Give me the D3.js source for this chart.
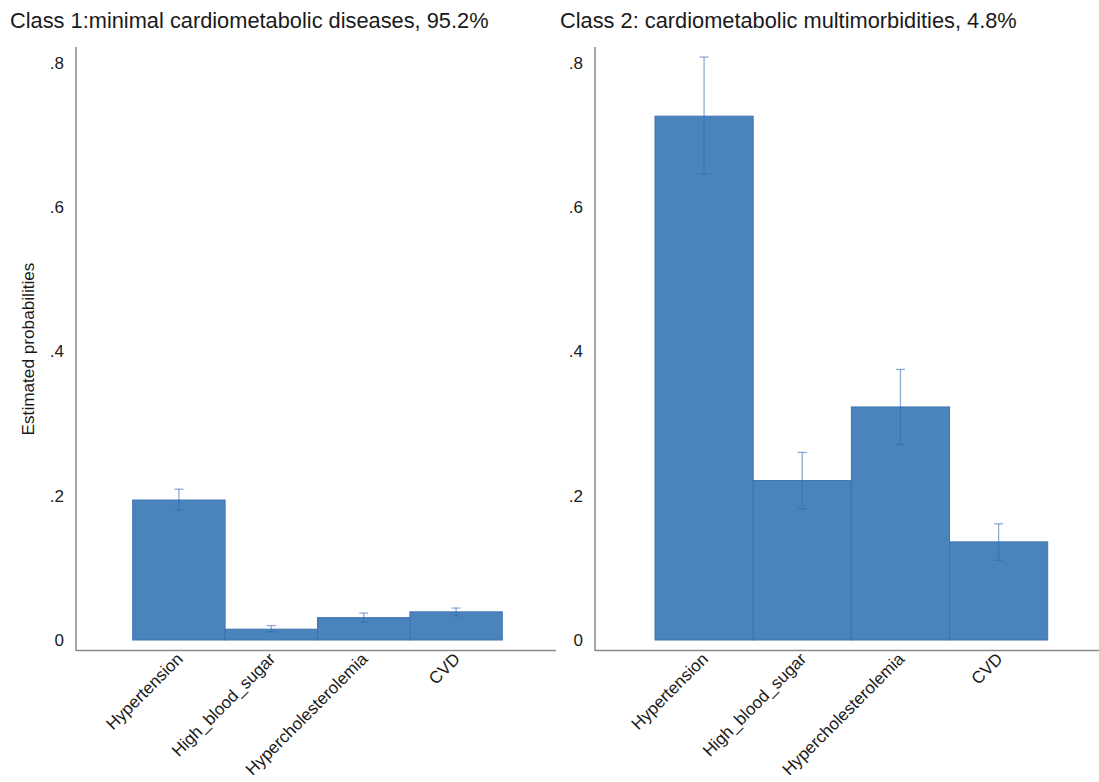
<!DOCTYPE html>
<html>
<head>
<meta charset="utf-8">
<script src="https://cdn.jsdelivr.net/npm/d3@7"></script>
<style>
  body { margin: 0; background: #fff; }
  text { font-family: "Liberation Sans", Arial, sans-serif; fill: #1a1a1a; }
</style>
</head>
<body>
<svg id="chart" width="1099" height="782"></svg>
<script>
// Latent class profiles: estimated probability of each condition, with 95% CI
const conditions = ["Hypertension", "High_blood_sugar", "Hypercholesterolemia", "CVD"];
const yTicks = [0, 0.2, 0.4, 0.6, 0.8];
const yTickLabels = ["0", ".2", ".4", ".6", ".8"];

const class1Title = "Class 1:minimal cardiometabolic diseases, 95.2%";
const class1Prob = [0.194, 0.015, 0.031, 0.039];
const class1Lower = [0.180, 0.0115, 0.0245, 0.0333];
const class1Upper = [0.209, 0.020, 0.0374, 0.0443];

const class2Title = "Class 2: cardiometabolic multimorbidities, 4.8%";
const class2Prob = [0.726, 0.221, 0.323, 0.136];
const class2Lower = [0.646, 0.182, 0.271, 0.1105];
const class2Upper = [0.808, 0.260, 0.375, 0.161];

const yLabel = "Estimated probabilities";

const svg = d3.select("#chart");
const barFill = "#4b84bd";
const barEdge = "#3c74b0";
const errColor = "#2f6aae";

function panel(opts) {
  const g = svg.append("g");
  const y = d3.scaleLinear().domain([0, 0.8]).range([640, 62.8]);
  const x = d3.scaleBand().domain(conditions).range(opts.barRange).paddingInner(0).paddingOuter(0);

  // title
  g.append("text").attr("x", opts.titleX).attr("y", 28)
    .attr("font-size", 21.8).text(opts.title);

  // axis lines
  g.append("line").attr("x1", opts.axisX).attr("x2", opts.axisX)
    .attr("y1", 47).attr("y2", 651).attr("stroke", "#8a8a8a").attr("stroke-width", 1.5);
  g.append("line").attr("x1", opts.axisX).attr("x2", opts.axisEnd)
    .attr("y1", 650.5).attr("y2", 650.5).attr("stroke", "#8a8a8a").attr("stroke-width", 1.5);

  // y tick labels (no tick marks)
  g.selectAll(".ytl").data(yTicks).join("text")
    .attr("x", opts.axisX - 12).attr("y", d => y(d))
    .attr("dy", "0.35em").attr("text-anchor", "end").attr("font-size", 17)
    .text((d, i) => yTickLabels[i]);

  // bars
  g.selectAll(".bar").data(opts.prob).join("rect")
    .attr("x", (d, i) => x(conditions[i]))
    .attr("y", d => y(d))
    .attr("width", x.bandwidth())
    .attr("height", d => y(0) - y(d))
    .attr("fill", barFill).attr("stroke", barEdge).attr("stroke-width", 1);

  // confidence intervals
  const cap = 4.5;
  const eg = g.append("g").attr("stroke", errColor).attr("stroke-opacity", 0.55).attr("stroke-width", 1.3);
  opts.prob.forEach((p, i) => {
    const cx = x(conditions[i]) + x.bandwidth() / 2;
    eg.append("line").attr("x1", cx).attr("x2", cx).attr("y1", y(opts.lower[i])).attr("y2", y(opts.upper[i]));
    eg.append("line").attr("x1", cx - cap).attr("x2", cx + cap).attr("y1", y(opts.upper[i])).attr("y2", y(opts.upper[i]));
    eg.append("line").attr("x1", cx - cap).attr("x2", cx + cap).attr("y1", y(opts.lower[i])).attr("y2", y(opts.lower[i]));
  });

  // rotated category labels
  g.selectAll(".xtl").data(conditions).join("text")
    .attr("transform", d => `translate(${x(d) + x.bandwidth() / 2 + 5},${660}) rotate(-45)`)
    .attr("text-anchor", "end").attr("font-size", 17)
    .text(d => d);
  return g;
}

panel({
  title: class1Title, titleX: 10, axisX: 76, axisEnd: 556,
  barRange: [132.7, 502.3], prob: class1Prob, lower: class1Lower, upper: class1Upper
});
panel({
  title: class2Title, titleX: 560, axisX: 595, axisEnd: 1099,
  barRange: [655, 1047.7], prob: class2Prob, lower: class2Lower, upper: class2Upper
});

svg.append("text")
  .attr("transform", "translate(34,349) rotate(-90)")
  .attr("text-anchor", "middle").attr("font-size", 17.2)
  .text(yLabel);
</script>
</body>
</html>
